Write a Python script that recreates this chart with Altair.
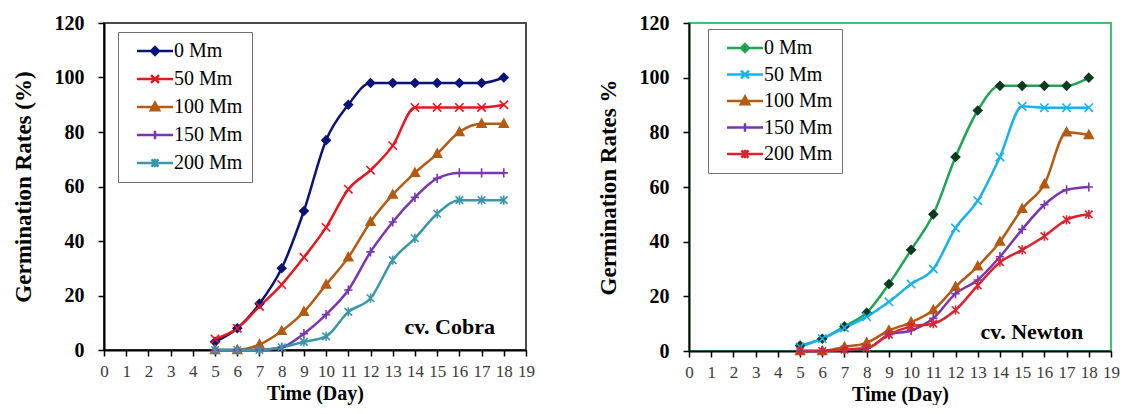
import altair as alt
import pandas as pd

# ---------------- data ----------------
days = list(range(5, 19))
series = ["0 Mm", "50 Mm", "100 Mm", "150 Mm", "200 Mm"]

cobra_0 = [3, 8, 17, 30, 51, 77, 90, 98, 98, 98, 98, 98, 98, 100]
cobra_50 = [4, 8, 16, 24, 34, 45, 59, 66, 75, 89, 89, 89, 89, 90]
cobra_100 = [0, 0, 2, 7, 14, 24, 34, 47, 57, 65, 72, 80, 83, 83]
cobra_150 = [0, 0, 0, 1, 6, 13, 22, 36, 47, 56, 63, 65, 65, 65]
cobra_200 = [0, 0, 0, 1, 3, 5, 14, 19, 33, 41, 50, 55, 55, 55]

newton_0 = [2, 4.5, 9, 14, 24.5, 37, 50, 71, 88, 97, 97, 97, 97, 100]
newton_50 = [1.5, 4.5, 8.5, 12.5, 18, 24.5, 30, 45, 55, 71, 89.5, 89, 89, 89]
newton_100 = [0, 0, 1.5, 3, 7.5, 10.5, 15, 23.5, 31, 40, 52, 61, 80, 79]
newton_150 = [0, 0, 0.5, 1, 6, 7.5, 12, 21, 26, 34.5, 44.5, 53.5, 59, 60]
newton_200 = [0, 0, 0.5, 1, 6, 9, 10, 15, 24, 32.5, 37, 42, 48, 50]

x_ticks = list(range(0, 20))
y_ticks = [0, 20, 40, 60, 80, 100, 120]

cobra_note = ["cv. Cobra"]
cobra_note_day = [17.6]
cobra_note_value = [8.5]
newton_note = ["cv. Newton"]
newton_note_day = [17.75]
newton_note_value = [7]

# ---------------- styles ----------------
FONT = "Liberation Serif"
cobra_line_colors = ["#0A1478", "#E8161E", "#B45A12", "#7A35B0", "#3A96AA"]
cobra_marker_colors = ["#0A1478", "#E8161E", "#B45A12", "#7A35B0", "#3A96AA"]
newton_line_colors = ["#1FA456", "#1AB2EE", "#B45A12", "#7A35B0", "#DC2430"]
newton_marker_colors = ["#0E3B1E", "#1AB2EE", "#B45A12", "#7A35B0", "#DC2430"]

MARKERS = {
    "diamond": [[(0, -1), (1, 0), (0, 1), (-1, 0), "Z"]],
    "x": [[(-1, -1), (1, 1)], [(-1, 1), (1, -1)]],
    "triangle": [[(0, -1.1), (1.05, 0.8), (-1.05, 0.8), "Z"]],
    "plus": [[(-1, 0), (1, 0)], [(0, -1.1), (0, 1.1)]],
    "star": [[(-0.9, -0.9), (0.9, 0.9)], [(-0.9, 0.9), (0.9, -0.9)], [(0, -1.1), (0, 1.1)]],
}
cobra_shapes = ["diamond", "x", "triangle", "plus", "star"]
newton_shapes = ["diamond", "x", "triangle", "plus", "star"]


def path(name, k=1.0, line=None):
    parts = []
    if line:
        parts.append(f"M{-line},0H{line}")
    for sub in MARKERS[name]:
        closed = sub[-1] == "Z"
        pts = sub[:-1] if closed else sub
        s = "M" + "L".join(f"{px * k:.3f},{py * k:.3f}" for px, py in pts)
        if closed:
            s += "Z"
        parts.append(s)
    return "".join(parts)


def panel(values, line_colors, marker_colors, shapes, width, height, ytitle, xtitle,
          frame, note, note_day, note_val, leg_x, leg_y, row_pad):
    rows = []
    for name, vals in zip(series, values):
        for d, v in zip(days, vals):
            rows.append({"day": d, "value": v, "series": name})
    df = pd.DataFrame(rows)

    x = alt.X("day:Q", scale=alt.Scale(domain=[0, 19], nice=False, zero=False),
              axis=alt.Axis(values=x_ticks, title=xtitle, grid=False, labelOverlap=False,
                            labelFlush=False, format="d",
                            labelFont=FONT, labelFontSize=17, labelColor="#3a3a3a",
                            labelPadding=7, tickSize=6, tickColor="#000", tickWidth=1.5,
                            domainColor="#000", domainWidth=2,
                            titleFont=FONT, titleFontSize=20, titleFontWeight="bold",
                            titleColor="#000", titlePadding=4))
    y = alt.Y("value:Q", scale=alt.Scale(domain=[0, 120], nice=False),
              axis=alt.Axis(values=y_ticks, title=ytitle, grid=False,
                            labelFont=FONT, labelFontSize=20, labelFontWeight="bold",
                            labelColor="#000", labelPadding=14, tickSize=6,
                            tickColor="#000", tickWidth=1.5,
                            domainColor="#000", domainWidth=2,
                            titleFont=FONT, titleFontSize=23, titleFontWeight="bold",
                            titleColor="#000", titlePadding=19))
    base = alt.Chart(df)
    lines = base.mark_line(interpolate="monotone", strokeWidth=2.5).encode(
        x=x, y=y,
        color=alt.Color("series:N", scale=alt.Scale(domain=series, range=line_colors), legend=None),
    )
    pts = base.mark_point(size=70, strokeWidth=1.6, opacity=1).encode(
        x=x, y=y,
        shape=alt.Shape("series:N", scale=alt.Scale(domain=series, range=[path(s) for s in shapes]),
                        legend=None),
        fill=alt.Fill("series:N", scale=alt.Scale(domain=series, range=marker_colors), legend=None),
        stroke=alt.Stroke("series:N", scale=alt.Scale(domain=series, range=marker_colors), legend=None),
    )
    leg = alt.Legend(orient="none", legendX=leg_x, legendY=leg_y, title=None,
                     strokeColor="#707070", fillColor="#ffffff", padding=9,
                     symbolSize=207, symbolStrokeWidth=2.5, symbolOffset=18,
                     labelFont=FONT, labelFontSize=20, labelColor="#000",
                     labelOffset=9, rowPadding=row_pad, symbolType="circle")
    legend_layer = base.transform_filter("datum.day < 0").mark_point(opacity=1, strokeWidth=2.5).encode(
        x=x, y=y,
        shape=alt.Shape("series:N", scale=alt.Scale(domain=series,
                        range=[path(s, 0.55, 2.5) for s in shapes]), legend=leg),
        fill=alt.Fill("series:N", scale=alt.Scale(domain=series, range=marker_colors), legend=leg),
        stroke=alt.Stroke("series:N", scale=alt.Scale(domain=series, range=line_colors), legend=leg),
    )
    ndf = pd.DataFrame({"day": note_day, "value": note_val, "t": note})
    text = alt.Chart(ndf).mark_text(align="right", baseline="middle", font=FONT,
                                    fontWeight="bold", fontSize=22, color="#000").encode(
        x=x, y=y, text="t:N")
    return alt.layer(lines, pts, legend_layer, text).resolve_scale(
        shape="independent", fill="independent", stroke="independent", color="independent"
    ).properties(width=width, height=height,
                 view=alt.ViewBackground(stroke=frame, strokeWidth=2))


left = panel([cobra_0, cobra_50, cobra_100, cobra_150, cobra_200],
             cobra_line_colors, cobra_marker_colors, cobra_shapes, 422, 327,
             "Germination  Rates (%)", "Time  (Day)", "#4a4a4a",
             cobra_note, cobra_note_day, cobra_note_value, 14, 9, 8)
right = panel([newton_0, newton_50, newton_100, newton_150, newton_200],
              newton_line_colors, newton_marker_colors, newton_shapes, 422, 328,
              "Germination  Rates %", "Time (Day)", "#3CC46E",
              newton_note, newton_note_day, newton_note_value, 19, 6, 6.5)

chart = alt.hconcat(left, right, spacing=60).resolve_scale(
    x="independent", y="independent", color="independent", shape="independent",
    fill="independent", stroke="independent"
).resolve_legend(color="independent", shape="independent", fill="independent",
                 stroke="independent").properties(
    padding={"left": 3, "top": 4, "right": 0, "bottom": 0}
).configure(background="#ffffff", font=FONT).configure_legend(
    labelFont=FONT, labelFontSize=20
).configure_axis(labelFont=FONT, titleFont=FONT)

chart.save("out.html", embed_options={"renderer": "svg", "actions": False})
